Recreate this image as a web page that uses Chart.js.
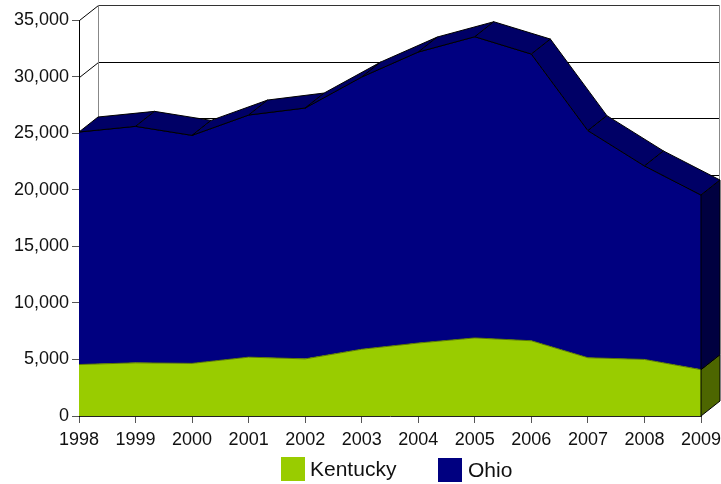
<!DOCTYPE html>
<html>
<head>
<meta charset="utf-8">
<title>Kentucky and Ohio</title>
<script src="https://cdn.jsdelivr.net/npm/chart.js@4/dist/chart.umd.js"></script>
<style>
  html, body { margin: 0; padding: 0; background: #fff; }
  canvas { display: block; }
</style>
</head>
<body>
<canvas id="area-chart" width="721" height="484"></canvas>
<script>
var years = ["1998", "1999", "2000", "2001", "2002", "2003", "2004", "2005", "2006", "2007", "2008", "2009"];
var kentucky = [4550, 4700, 4650, 5200, 5050, 5900, 6450, 6900, 6650, 5150, 5000, 4100];
var ohio = [20550, 20900, 20150, 21400, 22170, 24060, 25720, 26620, 25340, 20070, 17100, 15430];
var seriesNames = ["Kentucky", "Ohio"];
var seriesColors = ["#99cc00", "#000080"];
var sideColors = ["#4d6600", "#000040"];
var topColor = "#000066";

// how far the back wall sits from the front of the chart
var depthX = 19;
var depthY = -15;

var fontName = '"Liberation Sans", Arial, sans-serif';
var textColor = "#111";

function line(ctx, x1, y1, x2, y2, color) {
    ctx.strokeStyle = color;
    ctx.lineWidth = 1;
    ctx.beginPath();
    ctx.moveTo(x1, y1);
    ctx.lineTo(x2, y2);
    ctx.stroke();
}

function face(ctx, points, fill) {
    ctx.fillStyle = fill;
    ctx.strokeStyle = "#000";
    ctx.lineWidth = 1;
    ctx.beginPath();
    ctx.moveTo(points[0][0], points[0][1]);
    for (var i = 1; i < points.length; i++)
        ctx.lineTo(points[i][0], points[i][1]);
    ctx.closePath();
    ctx.fill();
    ctx.stroke();
}

var backWall = {
    id: "backWall",
    beforeDatasetsDraw: function(chart) {
        var ctx = chart.ctx;
        var area = chart.chartArea;
        var yScale = chart.scales.y;
        var left = area.left + 0.5;
        var backLeft = left + depthX;
        var backRight = area.right + depthX - 0.5;

        ctx.save();
        yScale.ticks.forEach(function(tick) {
            if (tick.value == 0) return;
            var y = Math.round(yScale.getPixelForValue(tick.value)) + 0.5;
            var isTop = tick.value == yScale.max;
            line(ctx, left, y, backLeft, y + depthY, "#000");
            line(ctx, backLeft, y + depthY, backRight, y + depthY, isTop ? "#333" : "#000");
        });
        var wallTop = Math.round(yScale.getPixelForValue(yScale.max)) + 0.5 + depthY;
        var wallBottom = Math.round(yScale.getPixelForValue(0)) + 0.5 + depthY;
        line(ctx, backLeft, wallTop, backLeft, wallBottom, "#888");
        line(ctx, backRight, wallTop, backRight, wallBottom, "#888");
        ctx.restore();
    },
    afterDatasetsDraw: function(chart) {
        var ctx = chart.ctx;
        var yScale = chart.scales.y;
        var lower = chart.getDatasetMeta(0).data;
        var upper = chart.getDatasetMeta(1).data;
        var last = upper.length - 1;
        var base = yScale.getPixelForValue(0);

        ctx.save();
        ctx.lineJoin = "round";
        // top of the Ohio band
        for (var i = 0; i < last; i++) {
            face(ctx, [
                [upper[i].x, upper[i].y],
                [upper[i + 1].x, upper[i + 1].y],
                [upper[i + 1].x + depthX, upper[i + 1].y + depthY],
                [upper[i].x + depthX, upper[i].y + depthY]
            ], topColor);
        }
        // right hand side of both bands
        var x = upper[last].x;
        face(ctx, [
            [x, base],
            [x, lower[last].y],
            [x + depthX, lower[last].y + depthY],
            [x + depthX, base + depthY]
        ], sideColors[0]);
        face(ctx, [
            [x, lower[last].y],
            [x, upper[last].y],
            [x + depthX, upper[last].y + depthY],
            [x + depthX, lower[last].y + depthY]
        ], sideColors[1]);
        ctx.restore();
    }
};

var keyBoxes = {
    id: "keyBoxes",
    afterDraw: function(chart) {
        var ctx = chart.ctx;
        var boxX = [281, 438];
        var boxY = [457, 458];
        var textX = [310, 468];
        var textY = [476, 477];

        ctx.save();
        ctx.font = "21px " + fontName;
        ctx.textBaseline = "alphabetic";
        for (var i = 0; i < seriesNames.length; i++) {
            ctx.fillStyle = seriesColors[i];
            ctx.fillRect(boxX[i], boxY[i], 24, 24);
            ctx.fillStyle = textColor;
            ctx.fillText(seriesNames[i], textX[i], textY[i]);
        }
        ctx.restore();
    }
};

var chartCanvas = document.getElementById("area-chart");

var areaChart = new Chart(chartCanvas, {
    type: "line",
    data: {
        labels: years,
        datasets: [
            {
                label: seriesNames[0],
                data: kentucky,
                backgroundColor: seriesColors[0],
                borderColor: "#5a7a00",
                borderWidth: 1,
                fill: "origin",
                pointRadius: 0,
                tension: 0
            },
            {
                label: seriesNames[1],
                data: ohio,
                backgroundColor: seriesColors[1],
                borderColor: "#000",
                borderWidth: 1,
                fill: "-1",
                pointRadius: 0,
                tension: 0
            }
        ]
    },
    options: {
        responsive: false,
        animation: false,
        layout: { padding: { top: 20, right: 20, bottom: 0, left: 0 } },
        plugins: {
            legend: { display: false },
            tooltip: { enabled: false }
        },
        scales: {
            x: {
                stacked: true,
                offset: false,
                afterFit: function(scale) {
                    scale.height = 68;
                    scale.paddingLeft = 0;
                    scale.paddingRight = 0;
                },
                grid: { drawOnChartArea: false, drawTicks: true, tickLength: 7, color: "#555" },
                border: { color: "#222" },
                ticks: {
                    autoSkip: false,
                    maxRotation: 0,
                    padding: 6,
                    color: textColor,
                    font: { family: fontName, size: 18 }
                }
            },
            y: {
                stacked: true,
                min: 0,
                max: 35000,
                afterFit: function(scale) { scale.width = 79; },
                grid: { drawOnChartArea: false, drawTicks: true, tickLength: 7, color: "#555" },
                border: { color: "#000" },
                ticks: {
                    stepSize: 5000,
                    padding: 3,
                    color: textColor,
                    font: { family: fontName, size: 18 },
                    callback: function(value) { return value.toLocaleString("en-US"); }
                }
            }
        }
    },
    plugins: [backWall, keyBoxes]
});
</script>
</body>
</html>
